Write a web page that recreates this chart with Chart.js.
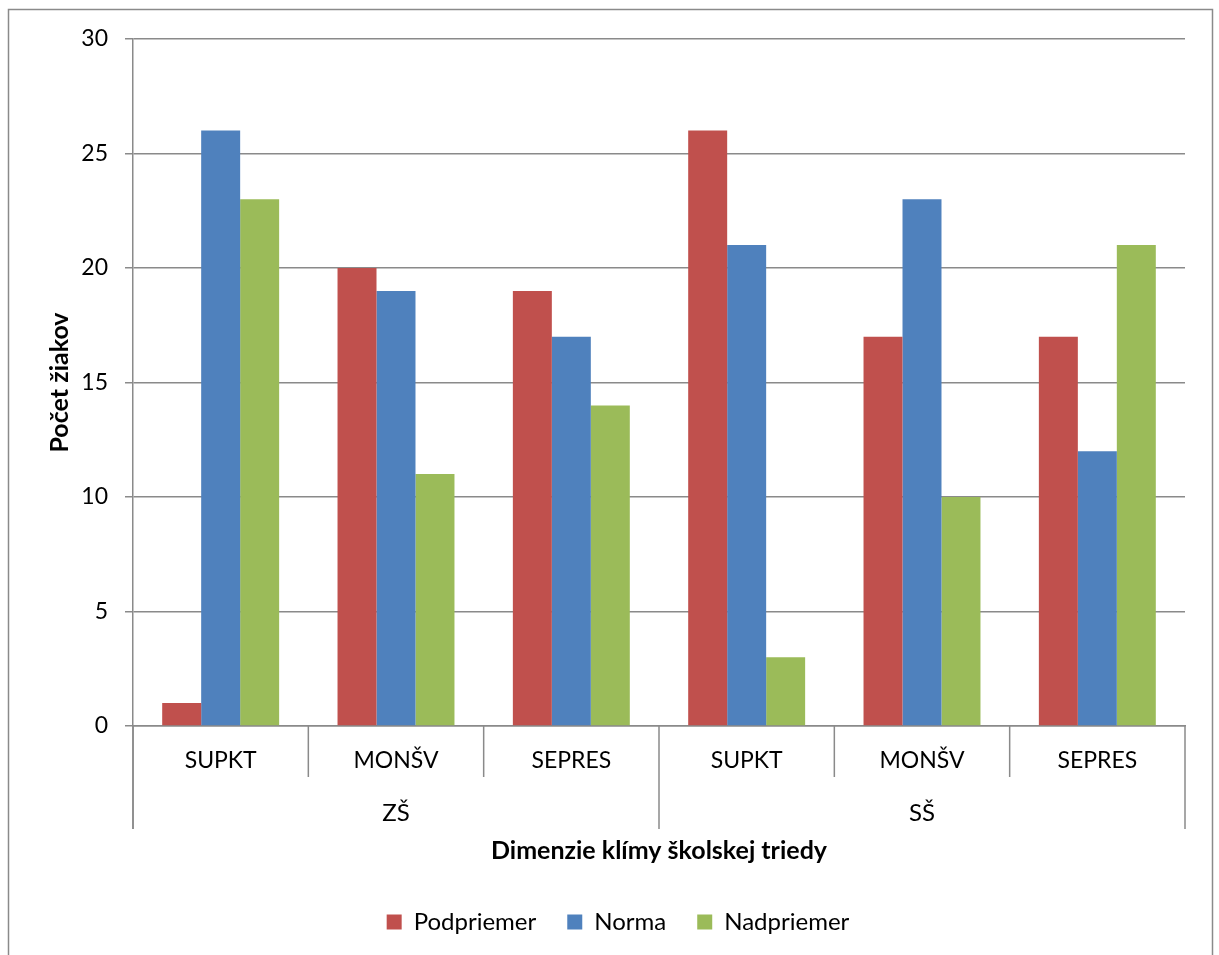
<!DOCTYPE html>
<html>
<head>
<meta charset="utf-8">
<script src="https://cdn.jsdelivr.net/npm/chart.js@4/dist/chart.umd.min.js"></script>
<style>
  html, body { margin: 0; padding: 0; background: #ffffff; }
  #wrap { width: 1219px; height: 955px; position: relative; }
</style>
</head>
<body>
<div id="wrap"><canvas id="c" width="1219" height="955"></canvas></div>
<script>
// Categories: school level groups and climate dimensions inside each group
const groups = ['ZŠ', 'SŠ'];
const groupSizes = [3, 3];
const dimensions = ['SUPKT', 'MONŠV', 'SEPRES', 'SUPKT', 'MONŠV', 'SEPRES'];

// Number of pupils per dimension
const podpriemer = [1, 20, 19, 26, 17, 17];
const norma = [26, 19, 17, 21, 23, 12];
const nadpriemer = [23, 11, 14, 3, 10, 21];

// Value axis
const yMin = 0;
const yMax = 30;
const yStep = 5;

const FONT = 'Lato, "Open Sans", sans-serif';
const LINE = '#8a8a8a';

// Outer frame, extended axis line and the two-level category axis
const frameAndGroups = {
  id: 'frameAndGroups',
  afterDraw(chart) {
    const ctx = chart.ctx;
    const area = chart.chartArea;
    const x = chart.scales.x;
    ctx.save();
    ctx.strokeStyle = LINE;
    ctx.lineWidth = 1.5;
    // chart frame
    ctx.strokeRect(8.5, 9.5, 1204, 960);

    const lvl1 = area.bottom + 51;
    const lvl2 = area.bottom + 103;
    // left axis runs down through both label rows
    ctx.beginPath();
    ctx.moveTo(area.left, area.bottom);
    ctx.lineTo(area.left, lvl2);
    ctx.stroke();

    // separators between dimensions and between groups
    const n = dimensions.length;
    const boundaries = new Set([0]);
    let acc = 0;
    groupSizes.forEach(s => { acc += s; boundaries.add(acc); });
    for (let i = 0; i <= n; i++) {
      const px = x.getPixelForValue(i - 0.5);
      ctx.beginPath();
      ctx.moveTo(px, area.bottom);
      ctx.lineTo(px, boundaries.has(i) ? lvl2 : lvl1);
      ctx.stroke();
    }

    // group labels centred under their dimensions
    ctx.fillStyle = '#000';
    ctx.font = '24px ' + FONT;
    ctx.textAlign = 'center';
    ctx.textBaseline = 'middle';
    let start = 0;
    groups.forEach((g, gi) => {
      const end = start + groupSizes[gi];
      const a = x.getPixelForValue(start - 0.5);
      const b = x.getPixelForValue(end - 0.5);
      ctx.fillText(g, (a + b) / 2, area.bottom + 87);
      start = end;
    });
    ctx.restore();
  }
};

new Chart(document.getElementById('c'), {
  type: 'bar',
  data: {
    labels: dimensions,
    datasets: [
      { label: 'Podpriemer', data: podpriemer, backgroundColor: '#C0504D', borderWidth: 0 },
      { label: 'Norma', data: norma, backgroundColor: '#4F81BD', borderWidth: 0 },
      { label: 'Nadpriemer', data: nadpriemer, backgroundColor: '#9BBB59', borderWidth: 0 }
    ]
  },
  options: {
    responsive: false,
    animation: false,
    devicePixelRatio: 1,
    categoryPercentage: 0.667,
    barPercentage: 1.0,
    layout: { padding: { top: 39, right: 34, left: 51, bottom: 11 } },
    plugins: {
      legend: {
        position: 'bottom',
        labels: {
          boxWidth: 15,
          boxHeight: 15,
          padding: 31,
          color: '#000',
          font: { family: FONT, size: 24 }
        }
      },
      tooltip: { enabled: false }
    },
    scales: {
      x: {
        grid: { display: false, drawTicks: false },
        border: { display: true, color: LINE, width: 1.5 },
        ticks: {
          color: '#000',
          padding: 21,
          maxRotation: 0,
          autoSkip: false,
          font: { family: FONT, size: 23 }
        },
        title: {
          display: true,
          text: 'Dimenzie klímy školskej triedy',
          color: '#000',
          font: { family: FONT, size: 25, weight: 'bold', lineHeight: 1.0 },
          padding: { top: 0, bottom: 16 }
        },
        afterFit(scale) { scale.height = 153; }
      },
      y: {
        min: yMin,
        max: yMax,
        ticks: {
          stepSize: yStep,
          color: '#000',
          padding: 17,
          font: { family: FONT, size: 23 }
        },
        grid: { color: LINE, lineWidth: 1.5, tickLength: 8 },
        border: { display: true, color: LINE, width: 1.5 },
        title: {
          display: true,
          text: 'Počet žiakov',
          color: '#000',
          font: { family: FONT, size: 25, weight: 'bold', lineHeight: 1.0 },
          padding: { top: -4, bottom: 0 }
        },
        afterFit(scale) { scale.width = 82; }
      }
    }
  },
  plugins: [frameAndGroups]
});
</script>
</body>
</html>
